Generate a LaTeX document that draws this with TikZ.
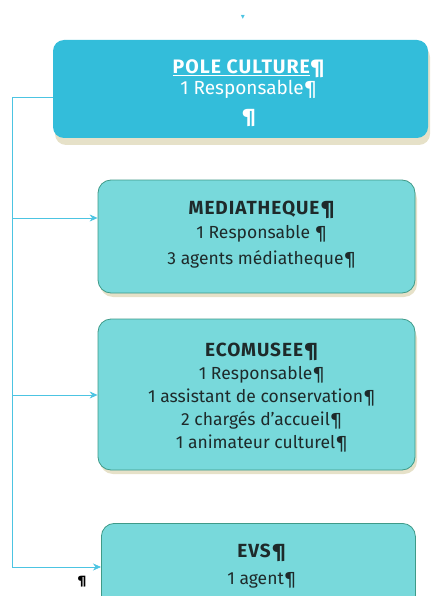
\documentclass[tikz,border=0pt]{standalone}
\usepackage{fontspec}
\setmainfont{Fira Sans}
\newfontfamily\djv{DejaVu Sans}
\newfontfamily\ttlfont[LetterSpace=5]{Fira Sans}
\usetikzlibrary{arrows.meta}
\definecolor{topfill}{HTML}{33BDDA}
\definecolor{subfill}{HTML}{78D9DB}
\definecolor{subdraw}{HTML}{3F9A88}
\definecolor{linec}{HTML}{4CC4E2}
\definecolor{shadowc}{HTML}{E6E1C8}
\definecolor{txtc}{HTML}{1E2A2A}
\begin{document}
\begin{tikzpicture}[x=1pt,y=-1pt,
  topbox/.style={rounded corners=11pt, fill=topfill, draw=none, text=white,
    minimum width=375pt, minimum height=98pt, align=center, inner sep=0pt,
    font=\fontsize{19}{21}\selectfont},
  subbox/.style={rounded corners=13pt, fill=subfill, draw=subdraw, line width=0.8pt,
    text=txtc, align=center, inner sep=0pt, font=\fontsize{17.5}{23}\selectfont},
  shad/.style={rounded corners=13pt, fill=shadowc, draw=none},
  conn/.style={draw=linec, line width=0.7pt},
  arr/.style={conn, -{Stealth[length=8pt,width=7pt]}}
]
\useasboundingbox (0,0) rectangle (432,596);
\clip (0,0) rectangle (432,596);
% shadows
\fill[shad, rounded corners=11pt] (55,46) rectangle (430,145);
\fill[shad] (100,186) rectangle (417,297);
\fill[shad] (100,325) rectangle (417,474);
% boxes
\node[topbox] (top) at (240.5,89) {};
\node[text=white, align=center, font=\fontsize{19}{21}\selectfont] (topt) at (249,93)
  {{\ttlfont\bfseries\fontsize{19.5}{21}\selectfont\underline{POLE CULTURE}¶}\\1 Responsable¶\\[7pt]\textbf{¶}};
\node[subbox, minimum width=317pt, minimum height=113pt] (med) at (256.5,236.5) {};
\node[text=txtc, align=center, font=\fontsize{17.5}{24}\selectfont] (medt) at (262,235)
  {{\ttlfont\bfseries\fontsize{19}{24}\selectfont MEDIATHEQUE¶}\\1 Responsable ¶\\[2pt]3 agents médiatheque¶};
\node[subbox, minimum width=317pt, minimum height=151pt] (eco) at (256.5,394.5) {};
\node[text=txtc, align=center, font=\fontsize{17.5}{23}\selectfont] (ecot) at (262,397.5)
  {{\ttlfont\bfseries\fontsize{19}{23}\selectfont ECOMUSEE¶}\\1 Responsable¶\\1 assistant de conservation¶\\2 chargés d'accueil¶\\1 animateur culturel¶};
\node[subbox, minimum width=314pt, minimum height=90pt, anchor=north west] (evs) at (101,523) {};
\node[text=txtc, align=center, font=\fontsize{17.5}{27}\selectfont] (evst) at (262,566.5)
  {{\ttlfont\bfseries\fontsize{19}{27}\selectfont EVS¶}\\1 agent¶};
% marks
\node[text=linec, font=\djv\fontsize{8}{8}\selectfont] (mk1) at (243,17) {▾};
\node[text=black, font=\bfseries\fontsize{12}{12}\selectfont] (mk2) at (82,582) {¶};
% connectors
\coordinate (t0) at (12,97);
\coordinate (b1) at (12,218);
\coordinate (b2) at (12,395);
\coordinate (b3) at (12,567);
\draw[conn] (top.west |- t0) -- (t0) -- (b3);
\draw[arr] (b1) -- (med.west |- b1);
\draw[arr] (b2) -- (eco.west |- b2);
\draw[arr] (b3) -- (evs.west |- b3);
\end{tikzpicture}
\end{document}
